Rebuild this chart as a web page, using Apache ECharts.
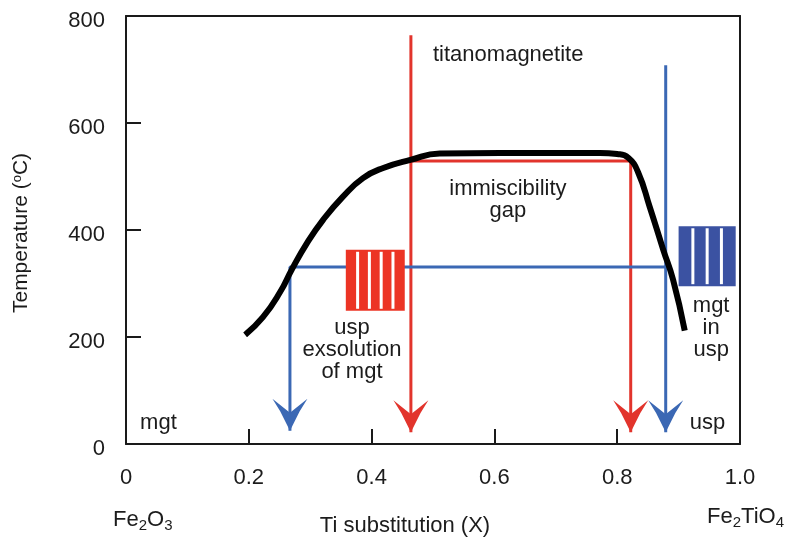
<!DOCTYPE html>
<html><head><meta charset="utf-8">
<script src="https://cdn.jsdelivr.net/npm/echarts@6/dist/echarts.min.js"></script>
<style>html,body{margin:0;padding:0;background:#fff}#c{width:786px;height:539px}</style>
</head><body><div id="c"></div>
<script>
// axis ticks
const xTicks = [0, 0.2, 0.4, 0.6, 0.8, 1.0];
const yTicks = [0, 200, 400, 600, 800];
// solvus curve (Ti substitution X, temperature °C)
const solvusX = [0.194,0.223,0.251,0.270,0.295,0.321,0.353,0.386,0.419,0.463,0.511,0.609,0.772,0.800,0.818,0.834,0.853,0.875,0.891,0.910];
const solvusT = [204,237,284,326,376,419,462,497,516,531,543,544,544,542,535,508,443,363,307,212];
// cooling paths [X, T]
const redPaths = [
  [[0.464,764],[0.464,22]],
  [[0.464,529],[0.822,529],[0.822,22]]
];
const bluePaths = [
  [[0.879,708],[0.879,22]],
  [[0.879,331],[0.267,331],[0.267,25]]
];
// lamellae blocks [x0, x1, T0, T1, bars]
const redBlock = [0.358, 0.454, 249, 363, 5];
const blueBlock = [0.900, 0.993, 295, 407, 4];
// annotations [text, X, T, align]
const notes = [
  ['titanomagnetite', 0.500, 727, 'left'],
  ['immiscibility\ngap', 0.622, 456, 'center'],
  ['usp\nexsolution\nof mgt', 0.368, 176, 'center'],
  ['mgt\nin\nusp', 0.953, 217, 'center'],
  ['mgt', 0.023, 39, 'left'],
  ['usp', 0.918, 39, 'left']
];

const RED = '#e2342c', BLUE = '#3b68b4', RED_BOX = '#ec3424', BLUE_BOX = '#3b52a2';
const FONT = '"Liberation Sans", Arial, Helvetica, sans-serif';
const TXT = '#1c1c1c';
const FS = 22;

function lineSeries(path, color){
  return {type:'line', data:path, symbol:'none', animation:false, silent:true, z:2,
    lineStyle:{color:color, width:3}};
}
function arrowSeries(paths, color){
  return {type:'custom', z:5, animation:false, silent:true,
    data: paths.map(p => p[p.length-1]),
    renderItem: function(params, api){
      const p = api.coord([api.value(0), api.value(1)]);
      const w = 17.5, h = 32, n = 18;
      return {type:'polygon', shape:{points:[[p[0],p[1]],[p[0]+w*0.55,p[1]-h*0.6],[p[0]+w,p[1]-h],[p[0],p[1]-n],[p[0]-w,p[1]-h],[p[0]-w*0.55,p[1]-h*0.6]]}, style:{fill:color}};
    }};
}
function blockSeries(block, color){
  return {type:'custom', z:4, animation:false, silent:true, data:[block],
    renderItem: function(params, api){
      const a = api.coord([api.value(0), api.value(3)]);
      const b = api.coord([api.value(1), api.value(2)]);
      const n = api.value(4);
      const W = b[0]-a[0], H = b[1]-a[1];
      const ch = [{type:'rect', shape:{x:a[0], y:a[1], width:W, height:H}, style:{fill:color}}];
      const step = W/n, gw = 3;
      for(let i=1;i<n;i++) ch.push({type:'rect', shape:{x:a[0]+i*step-gw/2, y:a[1]+2, width:gw, height:H-4}, style:{fill:'#fff'}});
      return {type:'group', children:ch};
    }};
}

const series = [];
redPaths.forEach(p => series.push(lineSeries(p, RED)));
bluePaths.forEach(p => series.push(lineSeries(p, BLUE)));
series.push({type:'line', data: solvusX.map((x,i)=>[x, solvusT[i]]), symbol:'none', smooth:0.5,
  animation:false, silent:true, z:3, lineStyle:{color:'#000', width:6, cap:'butt', join:'round'}});
series.push(blockSeries(redBlock, RED_BOX));
series.push(blockSeries(blueBlock, BLUE_BOX));
series.push(arrowSeries(redPaths, RED));
series.push(arrowSeries(bluePaths, BLUE));
series.push({type:'custom', z:6, animation:false, silent:true,
  data: notes.map(n => [n[1], n[2]]),
  renderItem: function(params, api){
    const p = api.coord([api.value(0), api.value(1)]);
    const n = notes[params.dataIndex];
    return {type:'text', x:p[0], y:p[1], style:{text:n[0], align:n[3], verticalAlign:'middle',
      font:FS + 'px ' + FONT, fill:TXT, lineHeight:22}};
  }});

const axisCommon = {
  axisLine:{show:true, onZero:false, lineStyle:{color:'#1a1a1a', width:2}},
  axisTick:{show:true, inside:true, length:15, lineStyle:{color:'#1a1a1a', width:2}},
  splitLine:{show:false}
};
const frameAxis = {
  axisLine:{show:true, onZero:false, lineStyle:{color:'#1a1a1a', width:2}},
  axisTick:{show:false}, axisLabel:{show:false}, splitLine:{show:false}
};

const chart = echarts.init(document.getElementById('c'), null, {renderer:'canvas'});
chart.setOption({
  backgroundColor:'#fff',
  animation:false,
  grid:{left:126, right:46, top:16, bottom:95, containLabel:false},
  xAxis:[
    Object.assign({type:'value', min:xTicks[0], max:xTicks[xTicks.length-1], interval:0.2,
      axisLabel:{margin:23, fontSize:FS, fontFamily:FONT, color:TXT,
        formatter: v => v === 0 ? '0' : v.toFixed(1)}}, axisCommon),
    Object.assign({type:'value', position:'top', min:0, max:1}, frameAxis)
  ],
  yAxis:[
    Object.assign({type:'value', min:yTicks[0], max:yTicks[yTicks.length-1], interval:200,
      axisLabel:{margin:21, fontSize:FS, fontFamily:FONT, color:TXT, verticalAlign:'top', lineHeight:10}}, axisCommon),
    Object.assign({type:'value', position:'right', min:0, max:800}, frameAxis)
  ],
  graphic:[
    {type:'text', x:21, y:233, rotation:Math.PI/2, style:{text:'Temperature ({s|o}C)', align:'center', verticalAlign:'middle',
      font:(FS-1) + 'px ' + FONT, fill:TXT, rich:{s:{fontSize:13, fontFamily:FONT, fill:TXT, verticalAlign:'top', padding:[0,0,8,0]}}}},
    {type:'text', x:405, y:526, style:{text:'Ti substitution (X)', align:'center', verticalAlign:'middle', font:FS + 'px ' + FONT, fill:TXT}},
    {type:'text', x:113, y:520, style:{text:'Fe{b|2}O{b|3}', align:'left', verticalAlign:'middle', font:FS + 'px ' + FONT, fill:TXT,
      rich:{b:{fontSize:15, fontFamily:FONT, fill:TXT, padding:[12,0,0,0]}}}},
    {type:'text', x:707, y:517, style:{text:'Fe{b|2}TiO{b|4}', align:'left', verticalAlign:'middle', font:FS + 'px ' + FONT, fill:TXT,
      rich:{b:{fontSize:15, fontFamily:FONT, fill:TXT, padding:[12,0,0,0]}}}}
  ],
  series: series
});
</script></body></html>
